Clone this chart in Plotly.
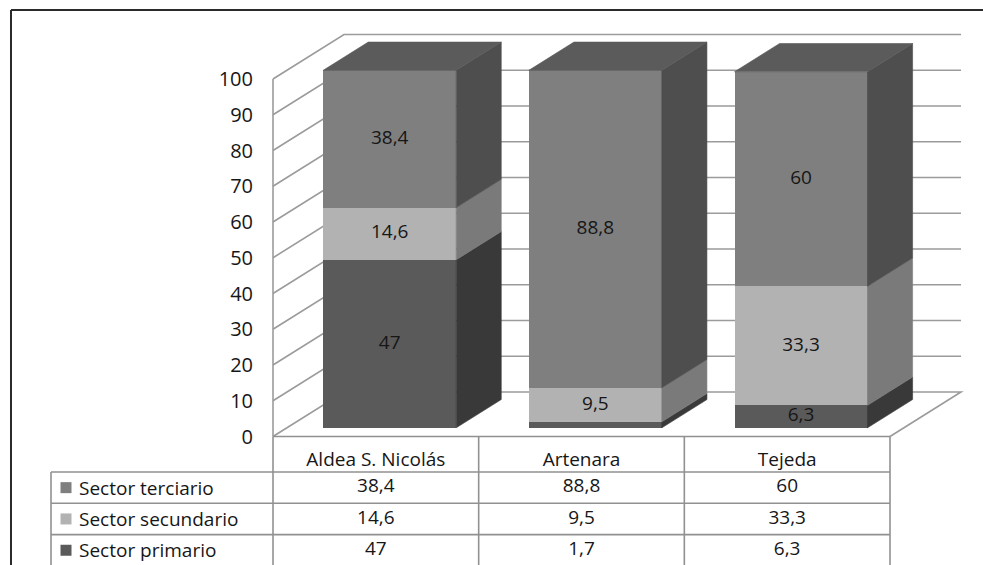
import plotly.graph_objects as go

# ---------------- data ----------------
categories = ["Aldea S. Nicolás", "Artenara", "Tejeda"]
primario = [47, 1.7, 6.3]
secundario = [14.6, 9.5, 33.3]
terciario = [38.4, 88.8, 60]
y_ticks = [0, 10, 20, 30, 40, 50, 60, 70, 80, 90, 100]
y_tick_labels = [str(v) for v in y_ticks]

# series stacked bottom-up: (name, values, front colour, side colour)
series = [
    ("Sector primario", primario, "#5a5a5a", "#393939"),
    ("Sector secundario", secundario, "#b2b2b2", "#7a7a7a"),
    ("Sector terciario", terciario, "#7f7f7f", "#4e4e4e"),
]
TOP_COLOR = "#5b5b5b"
# table rows top-down
table_rows = [series[2], series[1], series[0]]

def fmt(v):
    return ("%g" % v).replace(".", ",")

# ---------------- geometry (layout) ----------------
W, H = 983, 565
X0PX, U = 273.0, (890.0 - 273.0) / 3.0      # pixel of x=-0.5, pixels per category
Y0PX, S = 436.5, 3.575                       # pixel of y=0, pixels per unit
xr = [-0.5 - X0PX / U, -0.5 + (W - X0PX) / U]
yr = [-(H - Y0PX) / S, Y0PX / S]
DX, DY = 71.0 / U, 44.5 / S                  # full depth offset (data units)
D0, DD = 0.195, 0.635                        # bar front depth, bar depth
BW = 133.0 / U                               # bar width
GRID = "#9b9b9b"
TLINE = "#919191"
TXT = "#161616"
FONT = "Open Sans"
FS = 19

def px2x(p):
    return (p - X0PX) / U - 0.5

def py2y(p):
    return (Y0PX - p) / S

fig = go.Figure()

# ---------------- bars: side faces, top faces, fronts ----------------
n = len(categories)
bottoms = [0.0] * n
for name, vals, fcol, scol in series:
    sx, sy = [], []
    for i, v in enumerate(vals):
        b = bottoms[i]
        t = b + v
        xrgt = i + D0 * DX + BW / 2
        y0 = D0 * DY
        sx += [xrgt, xrgt + DD * DX, xrgt + DD * DX, xrgt, xrgt, None]
        sy += [b + y0, b + y0 + DD * DY, t + y0 + DD * DY, t + y0, b + y0, None]
    fig.add_trace(go.Scatter(x=sx, y=sy, mode="lines", fill="toself",
                             fillcolor=scol, line=dict(color=scol, width=0.6),
                             hoverinfo="skip", showlegend=False))
    fig.add_trace(go.Bar(x=[i + D0 * DX for i in range(n)], y=vals,
                         base=[bottoms[i] + D0 * DY for i in range(n)],
                         width=BW, marker=dict(color=fcol, line=dict(width=0)),
                         name=name, showlegend=False, hoverinfo="skip"))
    bottoms = [bottoms[i] + vals[i] for i in range(n)]

# top faces
tx, ty = [], []
for i in range(n):
    T = bottoms[i] + D0 * DY
    xl = i + D0 * DX - BW / 2
    xrg = i + D0 * DX + BW / 2
    tx += [xl, xrg, xrg + DD * DX, xl + DD * DX, xl, None]
    ty += [T, T, T + DD * DY, T + DD * DY, T, None]
fig.add_trace(go.Scatter(x=tx, y=ty, mode="lines", fill="toself",
                         fillcolor=TOP_COLOR, line=dict(color=TOP_COLOR, width=0.6),
                         hoverinfo="skip", showlegend=False))

# value labels on the front faces
bottoms = [0.0] * n
lx, ly, lt = [], [], []
for name, vals, fcol, scol in series:
    for i, v in enumerate(vals):
        if v >= 3:
            lx.append(i + D0 * DX)
            ly.append(bottoms[i] + v / 2 + D0 * DY)
            lt.append(fmt(v))
    bottoms = [bottoms[i] + vals[i] for i in range(n)]
fig.add_trace(go.Scatter(x=lx, y=ly, text=lt, mode="text",
                         textfont=dict(family=FONT, size=FS, color=TXT),
                         hoverinfo="skip", showlegend=False))

# ---------------- walls / gridlines (below traces) ----------------
shapes = []
xa, xb = -0.5, n - 0.5
for v in y_ticks:
    if v == 0:
        path = (f"M {xa},{v} L {xa+DX},{v+DY} L {xb+DX},{v+DY} L {xb},{v}")
    else:
        path = f"M {xa},{v} L {xa+DX},{v+DY} L {xb+DX},{v+DY}"
    shapes.append(dict(type="path", path=path, xref="x", yref="y",
                       line=dict(color=GRID, width=1.6), layer="below"))
shapes.append(dict(type="line", xref="x", yref="y", x0=xa, x1=xa, y0=0,
                   y1=y_ticks[-1], line=dict(color=GRID, width=1.6), layer="below"))

# ---------------- data table ----------------
row_tops = [py2y(472), py2y(503.3), py2y(534.6)]
bottom_y = yr[0] - 1
x_leg = px2x(51)
shapes.append(dict(type="line", xref="x", yref="y", x0=xa, x1=xb, y0=0, y1=0,
                   line=dict(color=TLINE, width=1.6)))
for k in range(n + 1):
    shapes.append(dict(type="line", xref="x", yref="y", x0=xa + k, x1=xa + k,
                       y0=0, y1=bottom_y, line=dict(color=TLINE, width=1.6)))
for yt in row_tops:
    shapes.append(dict(type="line", xref="x", yref="y", x0=x_leg, x1=xb,
                       y0=yt, y1=yt, line=dict(color=TLINE, width=1.6)))
shapes.append(dict(type="line", xref="x", yref="y", x0=x_leg, x1=x_leg,
                   y0=row_tops[0], y1=bottom_y, line=dict(color=TLINE, width=1.6)))

# outer frame
shapes.append(dict(type="line", xref="paper", yref="paper", x0=11 / W, x1=1.01,
                   y0=1 - 10 / H, y1=1 - 10 / H, line=dict(color="#2b2b2b", width=2)))
shapes.append(dict(type="line", xref="paper", yref="paper", x0=11 / W, x1=11 / W,
                   y0=1 - 10 / H, y1=-0.01, line=dict(color="#2b2b2b", width=2)))

row_h = row_tops[0] - row_tops[1]
annotations = []
for r, (name, vals, fcol, scol) in enumerate(table_rows):
    yc = row_tops[r] - row_h / 2
    fig.add_trace(go.Scatter(x=[px2x(66)], y=[yc], mode="markers",
                             marker=dict(symbol="square", size=11, color=fcol),
                             hoverinfo="skip", showlegend=False))
    annotations.append(dict(x=px2x(77), y=yc, xref="x", yref="y", text=name,
                            showarrow=False, xanchor="left", yanchor="middle",
                            font=dict(family=FONT, size=FS, color=TXT)))
    fig.add_trace(go.Scatter(x=list(range(n)), y=[yc] * n,
                             text=[fmt(v) for v in vals], mode="text",
                             textfont=dict(family=FONT, size=FS, color=TXT),
                             hoverinfo="skip", showlegend=False))

fig.update_layout(
    width=W, height=H, autosize=False,
    margin=dict(l=0, r=0, t=0, b=0),
    paper_bgcolor="white", plot_bgcolor="white",
    barmode="overlay", bargap=0,
    shapes=shapes, annotations=annotations,
    xaxis=dict(range=xr, anchor="free", position=(H - Y0PX) / H,
               tickvals=list(range(n)), ticktext=categories,
               showgrid=False, zeroline=False, showline=False, ticks="",
               ticklabelstandoff=9,
               tickfont=dict(family=FONT, size=FS, color=TXT), fixedrange=True),
    yaxis=dict(range=yr, anchor="free", position=X0PX / W,
               tickvals=y_ticks, ticktext=y_tick_labels,
               showgrid=False, zeroline=False, showline=False, ticks="",
               ticklabelstandoff=20,
               tickfont=dict(family=FONT, size=20, color=TXT), fixedrange=True),
    showlegend=False,
)

fig.write_html("out.html")
